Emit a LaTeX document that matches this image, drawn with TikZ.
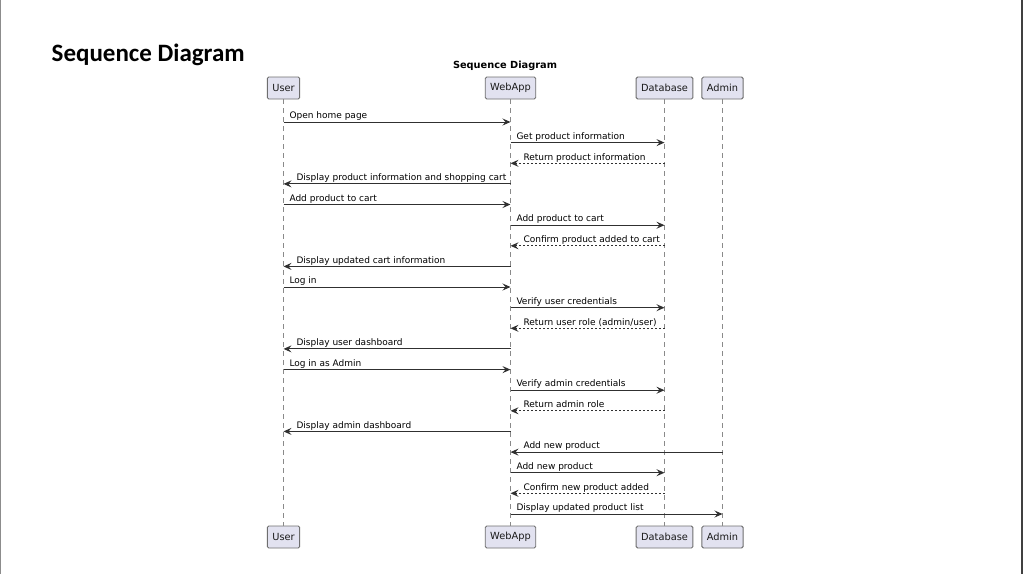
\documentclass[tikz,border=0pt]{standalone}
\usepackage{fontspec}
\setmainfont{DejaVu Sans}
\newfontfamily\carl{Carlito}
\usetikzlibrary{arrows.meta}
\definecolor{boxfill}{HTML}{E2E2F0}
\definecolor{boxline}{HTML}{6E6E6E}
\definecolor{lifeline}{HTML}{8A8A8A}
\definecolor{msgline}{HTML}{303030}
\tikzset{
  part/.style={draw=boxline, fill=boxfill, line width=0.9pt, rounded corners=1.5pt,
    minimum height=22pt, inner xsep=5pt, inner ysep=0pt, font=\fontsize{9.8}{11}\selectfont, text=black!90},
  lline/.style={draw=lifeline, line width=0.7pt, dash pattern=on 4.5pt off 4.5pt},
  msg/.style={draw=msgline, line width=1pt, -{Stealth[length=8pt,width=7pt,inset=3pt]}},
  ret/.style={msg, dash pattern=on 2pt off 2pt},
  lbl/.style={font=\fontsize{9}{10}\selectfont, inner sep=0pt, text=black},
}
\newcommand\msgR[5]{% style, from, to, y, label (rightward)
  \coordinate (m) at (0,-#4);
  \draw[#1] (#2 |- m) -- (#3 |- m) node[lbl, pos=0, anchor=base west, xshift=5.5pt, yshift=3.3pt] {#5};
}
\newcommand\msgL[5]{% style, from, to, y, label (leftward)
  \coordinate (m) at (0,-#4);
  \draw[#1] (#2 |- m) -- (#3 |- m) node[lbl, pos=1, anchor=base west, xshift=12.5pt, yshift=3.3pt] {#5};
}
\begin{document}
\begin{tikzpicture}[x=1pt,y=1pt]
\useasboundingbox (0,0) rectangle (1023,-574);
\draw[draw=black!45, line width=1.2pt] (0.6,0) -- (0.6,-574);
\draw[draw=black!75, line width=2pt] (1021.5,0) -- (1021.5,-574);

\node[anchor=base west, inner sep=0pt, font=\carl\bfseries\fontsize{25}{28}\selectfont] (bigtitle) at (51.5,-61.5) {Sequence Diagram};
\node[anchor=base, inner sep=0pt, font=\bfseries\fontsize{9.8}{11}\selectfont] (title) at (505,-68) {Sequence Diagram};

\node[part] (uT) at (283.5,-88) {User};
\node[part] (wT) at (510.5,-88) {WebApp};
\node[part] (dT) at (664.5,-88) {Database};
\node[part] (aT) at (722.5,-88) {Admin};
\node[part] (uB) at (283.5,-537) {User};
\node[part] (wB) at (510.5,-537) {WebApp};
\node[part] (dB) at (664.5,-537) {Database};
\node[part] (aB) at (722.5,-537) {Admin};

\draw[lline] (uT) -- (uB);
\draw[lline] (wT) -- (wB);
\draw[lline] (dT) -- (dB);
\draw[lline] (aT) -- (aB);

\msgR{msg}{uT}{wT}{122}{Open home page}
\msgR{msg}{wT}{dT}{142.6}{Get product information}
\msgL{ret}{dT}{wT}{163.3}{Return product information}
\msgL{msg}{wT}{uT}{183.9}{Display product information and shopping cart}
\msgR{msg}{uT}{wT}{204.5}{Add product to cart}
\msgR{msg}{wT}{dT}{225.2}{Add product to cart}
\msgL{ret}{dT}{wT}{245.8}{Confirm product added to cart}
\msgL{msg}{wT}{uT}{266.4}{Display updated cart information}
\msgR{msg}{uT}{wT}{287}{Log in}
\msgR{msg}{wT}{dT}{307.7}{Verify user credentials}
\msgL{ret}{dT}{wT}{328.3}{Return user role (admin/user)}
\msgL{msg}{wT}{uT}{348.9}{Display user dashboard}
\msgR{msg}{uT}{wT}{369.6}{Log in as Admin}
\msgR{msg}{wT}{dT}{390.2}{Verify admin credentials}
\msgL{ret}{dT}{wT}{410.8}{Return admin role}
\msgL{msg}{wT}{uT}{431.4}{Display admin dashboard}
\msgL{msg}{aT}{wT}{452.1}{Add new product}
\msgR{msg}{wT}{dT}{472.7}{Add new product}
\msgL{ret}{dT}{wT}{493.3}{Confirm new product added}
\msgR{msg}{wT}{aT}{514}{Display updated product list}
\end{tikzpicture}
\end{document}
